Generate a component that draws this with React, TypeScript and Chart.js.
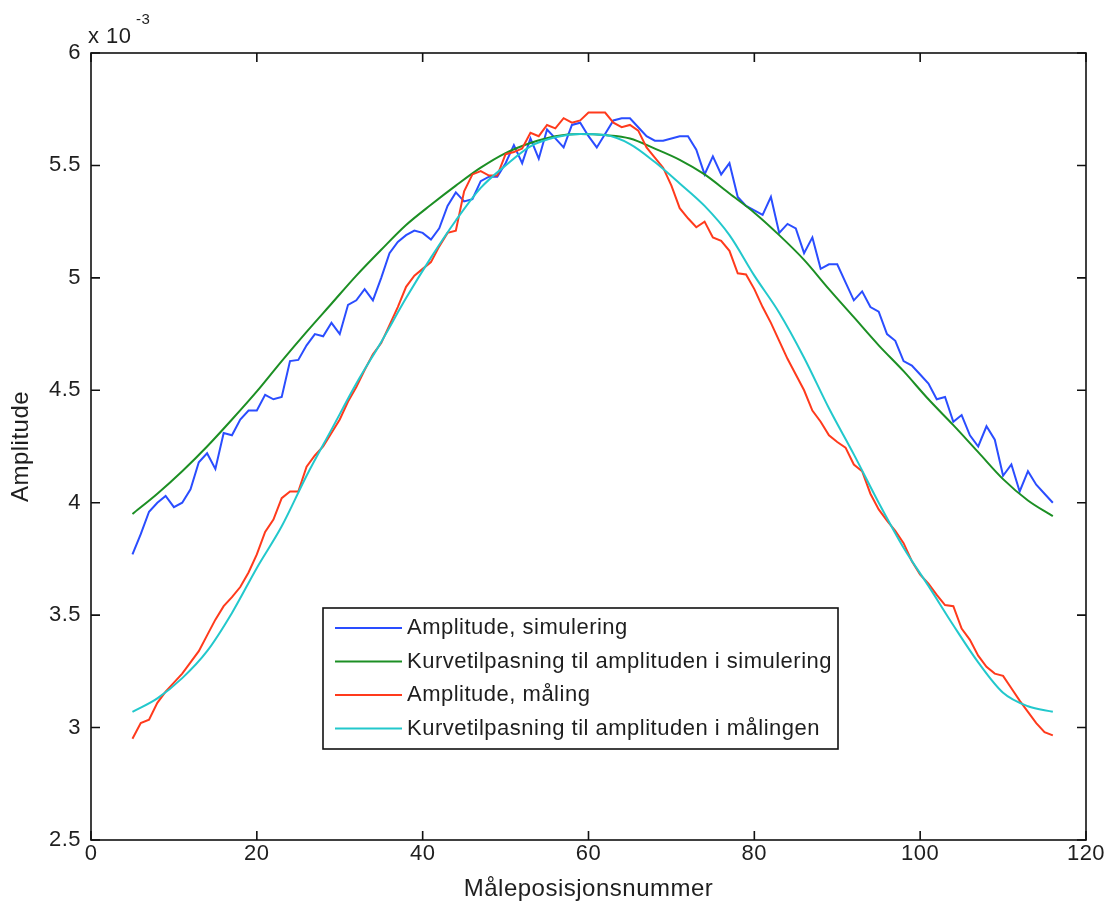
import React, { useEffect, useRef } from "react";
import { Chart, registerables } from "chart.js";

Chart.register(...registerables);

// ---------- data (amplitudes in units of 1e-3) ----------
const FIRST_POSITION = 5;

const ampSimulation = [
  3.77, 3.86, 3.96, 4.0, 4.03, 3.98, 4.0, 4.06, 4.18, 4.22, // 5-14
  4.15, 4.31, 4.3, 4.37, 4.41, 4.41, 4.48, 4.46, 4.47, 4.63, // 15-24
  4.635, 4.7, 4.75, 4.74, 4.8, 4.75, 4.88, 4.9, 4.95, 4.9, // 25-34
  5.0, 5.11, 5.16, 5.19, 5.21, 5.2, 5.17, 5.22, 5.32, 5.38, // 35-44
  5.34, 5.35, 5.43, 5.45, 5.45, 5.51, 5.59, 5.51, 5.62, 5.53, // 45-54
  5.66, 5.62, 5.58, 5.68, 5.69, 5.63, 5.58, 5.64, 5.7, 5.71, // 55-64
  5.71, 5.67, 5.63, 5.61, 5.61, 5.62, 5.63, 5.63, 5.57, 5.46, // 65-74
  5.54, 5.46, 5.51, 5.36, 5.32, 5.3, 5.28, 5.36, 5.2, 5.24, // 75-84
  5.22, 5.11, 5.18, 5.04, 5.06, 5.06, 4.98, 4.9, 4.94, 4.87, // 85-94
  4.85, 4.75, 4.72, 4.63, 4.61, 4.57, 4.53, 4.46, 4.47, 4.36, // 95-104
  4.39, 4.3, 4.25, 4.34, 4.28, 4.12, 4.17, 4.05, 4.14, 4.08, // 105-114
  4.04, 4.0, // 115-116
];

const ampMeasurement = [
  2.95, 3.02, 3.035, 3.11, 3.16, 3.2, 3.24, 3.29, 3.34, 3.41, // 5-14
  3.48, 3.54, 3.58, 3.625, 3.69, 3.77, 3.87, 3.925, 4.02, 4.05, // 15-24
  4.05, 4.16, 4.21, 4.25, 4.31, 4.37, 4.45, 4.515, 4.59, 4.66, // 25-34
  4.71, 4.79, 4.87, 4.96, 5.01, 5.04, 5.07, 5.14, 5.2, 5.21, // 35-44
  5.385, 5.46, 5.475, 5.455, 5.455, 5.55, 5.56, 5.575, 5.645, 5.63, // 45-54
  5.68, 5.665, 5.71, 5.69, 5.7, 5.735, 5.735, 5.735, 5.69, 5.67, // 55-64
  5.68, 5.655, 5.58, 5.535, 5.49, 5.41, 5.31, 5.265, 5.225, 5.25, // 65-74
  5.18, 5.165, 5.12, 5.02, 5.015, 4.95, 4.87, 4.8, 4.72, 4.64, // 75-84
  4.57, 4.5, 4.41, 4.36, 4.3, 4.27, 4.245, 4.17, 4.14, 4.04, // 85-94
  3.97, 3.92, 3.875, 3.82, 3.74, 3.68, 3.64, 3.59, 3.545, 3.54, // 95-104
  3.44, 3.39, 3.32, 3.27, 3.24, 3.23, 3.175, 3.12, 3.07, 3.02, // 105-114
  2.98, 2.965, // 115-116
];

const fitPositions = [
  5, 8, 11, 14, 17, 20, 23, 26, 29, 32, 35, 38, 41, 44, 47, 50, 53, 56, 59,
  62, 65, 68, 71, 74, 77, 80, 83, 86, 89, 92, 95, 98, 101, 104, 107, 110, 113, 116,
];

const fitSimulation = [
  3.95, 4.04, 4.14, 4.25, 4.37, 4.495, 4.63, 4.76, 4.885, 5.01, 5.125, 5.235, 5.325,
  5.41, 5.49, 5.555, 5.6, 5.63, 5.64, 5.635, 5.62, 5.575, 5.525, 5.46, 5.375, 5.29,
  5.19, 5.08, 4.95, 4.825, 4.7, 4.585, 4.46, 4.345, 4.225, 4.105, 4.01, 3.94,
];

const fitMeasurement = [
  3.07, 3.13, 3.22, 3.34, 3.51, 3.71, 3.895, 4.12, 4.325, 4.53, 4.715, 4.91, 5.09,
  5.255, 5.4, 5.5, 5.585, 5.625, 5.64, 5.635, 5.595, 5.515, 5.42, 5.32, 5.19, 5.01,
  4.845, 4.645, 4.42, 4.215, 4.0, 3.8, 3.63, 3.455, 3.29, 3.155, 3.095, 3.07,
];

const xTicks = [0, 20, 40, 60, 80, 100, 120];
const yTicks = [2.5, 3, 3.5, 4, 4.5, 5, 5.5, 6];

const seriesLabels = [
  "Amplitude, simulering",
  "Kurvetilpasning til amplituden i simulering",
  "Amplitude, måling",
  "Kurvetilpasning til amplituden i målingen",
];
const seriesColors = ["#2a4dff", "#1c8f24", "#ff3a1c", "#22c8cc"];

const xTitle = "Måleposisjonsnummer";
const yTitle = "Amplitude";

// ---------- styling ----------
const FONT = '"Liberation Sans", Arial, Helvetica, sans-serif';
const TEXT_COLOR = "#1e1e1e";

const decorPlugin = {
  id: "matlabDecor",
  beforeDraw(chart: any) {
    const ctx = chart.ctx;
    ctx.fillStyle = "#ffffff";
    ctx.fillRect(0, 0, chart.width, chart.height);
    (ctx as any).letterSpacing = "0.5px";
  },
  afterDraw(chart: any) {
    const ctx = chart.ctx as CanvasRenderingContext2D;
    const a = chart.chartArea;
    const xs = chart.scales.x;
    const ys = chart.scales.y;
    ctx.save();
    // axes box
    ctx.strokeStyle = "#111";
    ctx.lineWidth = 1.6;
    ctx.strokeRect(a.left, a.top, a.right - a.left, a.bottom - a.top);
    // inward ticks on all four sides
    const TL = 9;
    ctx.beginPath();
    xTicks.forEach((v) => {
      const px = xs.getPixelForValue(v);
      ctx.moveTo(px, a.bottom);
      ctx.lineTo(px, a.bottom - TL);
      ctx.moveTo(px, a.top);
      ctx.lineTo(px, a.top + TL);
    });
    yTicks.forEach((v) => {
      const py = ys.getPixelForValue(v);
      ctx.moveTo(a.left, py);
      ctx.lineTo(a.left + TL, py);
      ctx.moveTo(a.right, py);
      ctx.lineTo(a.right - TL, py);
    });
    ctx.stroke();

    // exponent label
    ctx.fillStyle = TEXT_COLOR;
    ctx.textAlign = "left";
    ctx.textBaseline = "alphabetic";
    ctx.font = `22px ${FONT}`;
    ctx.fillText("x 10", a.left - 3, a.top - 10);
    ctx.font = `15px ${FONT}`;
    ctx.fillText("-3", a.left + 45, a.top - 29);

    // legend
    const lx = 323, ly = 608, lw = 515, lh = 141;
    ctx.fillStyle = "#ffffff";
    ctx.fillRect(lx, ly, lw, lh);
    ctx.strokeStyle = "#111";
    ctx.lineWidth = 1.6;
    ctx.strokeRect(lx, ly, lw, lh);
    ctx.font = `22px ${FONT}`;
    ctx.textBaseline = "middle";
    seriesLabels.forEach((label, i) => {
      const cy = ly + 20 + i * 33.5;
      ctx.strokeStyle = seriesColors[i];
      ctx.lineWidth = 2;
      ctx.beginPath();
      ctx.moveTo(lx + 12, cy);
      ctx.lineTo(lx + 79, cy);
      ctx.stroke();
      ctx.fillStyle = TEXT_COLOR;
      ctx.fillText(label, lx + 84, cy);
    });
    ctx.restore();
  },
};

export default function App() {
  const canvasRef = useRef<HTMLCanvasElement | null>(null);

  useEffect(() => {
    const canvas = canvasRef.current;
    if (!canvas) return;
    const toPoints = (vals: number[]) =>
      vals.map((v, i) => ({ x: FIRST_POSITION + i, y: v }));
    const toFitPoints = (vals: number[]) =>
      fitPositions.map((p, i) => ({ x: p, y: vals[i] }));

    const chart = new Chart(canvas, {
      type: "line",
      data: {
        datasets: [
          {
            label: seriesLabels[0],
            data: toPoints(ampSimulation),
            borderColor: seriesColors[0],
            borderWidth: 2,
            pointRadius: 0,
            order: 4,
          },
          {
            label: seriesLabels[1],
            data: toFitPoints(fitSimulation),
            borderColor: seriesColors[1],
            borderWidth: 2,
            pointRadius: 0,
            cubicInterpolationMode: "monotone",
            order: 3,
          },
          {
            label: seriesLabels[2],
            data: toPoints(ampMeasurement),
            borderColor: seriesColors[2],
            borderWidth: 2,
            pointRadius: 0,
            order: 2,
          },
          {
            label: seriesLabels[3],
            data: toFitPoints(fitMeasurement),
            borderColor: seriesColors[3],
            borderWidth: 2,
            pointRadius: 0,
            cubicInterpolationMode: "monotone",
            order: 1,
          },
        ],
      },
      options: {
        responsive: false,
        animation: false,
        devicePixelRatio: 1,
        parsing: false as any,
        normalized: true,
        layout: { padding: { top: 53, right: 23, bottom: 0, left: 0 } },
        plugins: {
          legend: { display: false },
          tooltip: { enabled: false },
        },
        scales: {
          x: {
            type: "linear",
            min: 0,
            max: 120,
            afterFit: (s: any) => {
              s.height = 64;
            },
            afterBuildTicks: (s: any) => {
              s.ticks = xTicks.map((v) => ({ value: v }));
            },
            grid: { display: false, drawTicks: false },
            border: { display: false },
            ticks: {
              padding: 1,
              autoSkip: false,
              maxRotation: 0,
              color: TEXT_COLOR,
              font: { family: FONT, size: 22 },
              callback: (v: any) => String(v),
            },
            title: {
              display: true,
              text: xTitle,
              color: TEXT_COLOR,
              font: { family: FONT, size: 24 },
              padding: { top: 0, bottom: 0 },
            },
          },
          y: {
            type: "linear",
            min: 2.5,
            max: 6,
            afterFit: (s: any) => {
              s.width = 91;
            },
            afterBuildTicks: (s: any) => {
              s.ticks = yTicks.map((v) => ({ value: v }));
            },
            grid: { display: false, drawTicks: false },
            border: { display: false },
            ticks: {
              padding: 10,
              color: TEXT_COLOR,
              font: { family: FONT, size: 22 },
              callback: (v: any) => String(v),
            },
            title: {
              display: true,
              text: yTitle,
              color: TEXT_COLOR,
              font: { family: FONT, size: 24 },
              padding: { top: 7, bottom: 0 },
            },
          },
        },
      },
      plugins: [decorPlugin],
    });

    return () => {
      chart.destroy();
    };
  }, []);

  return (
    <div style={{ position: "absolute", left: 0, top: 0, width: 1109, height: 904 }}>
      <canvas ref={canvasRef} width={1109} height={904} />
    </div>
  );
}
